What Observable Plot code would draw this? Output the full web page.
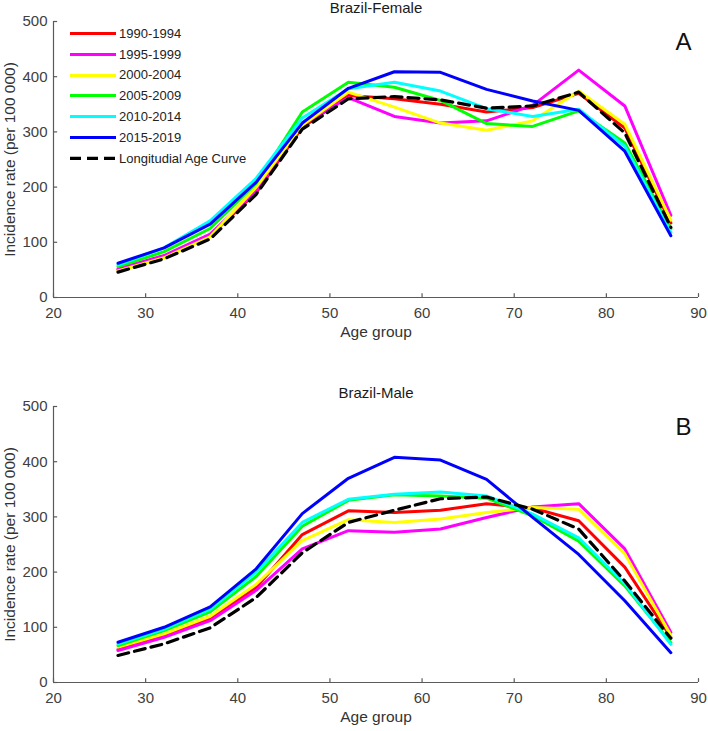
<!DOCTYPE html>
<html><head><meta charset="utf-8">
<script src="https://cdn.jsdelivr.net/npm/d3@7"></script>
<script src="https://cdn.jsdelivr.net/npm/@observablehq/plot@0.6"></script>
<style>
body{margin:0;background:#fff;font-family:"Liberation Sans",Arial,sans-serif;}
#wrap{position:relative;width:708px;height:731px;overflow:hidden;}
#wrap svg{display:block;}
.legend{position:absolute;left:70px;top:23px;font-size:13px;color:#222;}
.legend .row{display:flex;align-items:center;height:20.8px;}
.legend .row svg{width:46px;height:20.8px;margin-right:3px;}
</style></head><body><div id="wrap"></div>
<script>
const ages = [27,32,37,42,47,52,57,62,67,72,77,82,87];
const seriesNames = ["1990-1994","1995-1999","2000-2004","2005-2009","2010-2014","2015-2019"];
const seriesColors = ["#ff0000","#ff00ff","#ffff00","#00ff00","#00ffff","#0000ff"];
const longLabel = "Longitudial Age Curve";
const xTicks = [20,30,40,50,60,70,80,90];
const yTicks = [0,100,200,300,400,500];

// Brazil-Female
const f1990 = [50, 73, 112, 190, 308, 366, 360, 350, 336, 344, 370, 307, 135];
const f1995 = [52, 76, 115, 193, 314, 362, 328, 316, 320, 348, 412, 347, 149];
const f2000 = [48, 72, 110, 200, 312, 372, 345, 316, 303, 320, 374, 314, 140];
const f2005 = [56, 83, 125, 207, 336, 390, 381, 357, 315, 310, 338, 280, 125];
const f2010 = [59, 90, 139, 216, 325, 378, 390, 374, 342, 328, 341, 274, 118];
const f2015 = [62, 90, 133, 209, 316, 379, 409, 408, 377, 356, 339, 265, 112];
const fLong = [46, 70, 106, 187, 305, 360, 364, 358, 343, 347, 372, 298, 127];

// Brazil-Male
const m1990 = [60, 85, 115, 172, 268, 311, 308, 312, 324, 316, 293, 209, 82];
const m1995 = [58, 82, 112, 167, 242, 275, 272, 278, 299, 318, 324, 242, 91];
const m2000 = [64, 88, 120, 178, 257, 295, 290, 296, 308, 317, 314, 233, 85];
const m2005 = [67, 94, 128, 192, 283, 330, 340, 338, 334, 302, 256, 175, 72];
const m2010 = [70, 97, 133, 200, 290, 332, 341, 345, 338, 305, 262, 179, 69];
const m2015 = [73, 100, 137, 206, 306, 370, 408, 403, 368, 299, 232, 148, 54];
const mLong = [49, 70, 99, 154, 235, 290, 312, 333, 336, 314, 278, 184, 80];

function toLong(seriesArrays) {
  const rows = [];
  seriesArrays.forEach((arr, i) => arr.forEach((v, j) => rows.push({series: seriesNames[i], age: ages[j], value: v})));
  return rows;
}
function toRows(arr) { return arr.map((v, j) => ({age: ages[j], value: v})); }

const axisColor = "#5a5a5a";
const font = "'Liberation Sans', Arial, sans-serif";

function panel(data, longData, title, letter, height, marginBottom) {
  return Plot.plot({
    width: 708, height, marginTop: 21, marginBottom, marginLeft: 53, marginRight: 10,
    style: {fontFamily: font, fontSize: "15px", color: "#404040", background: "#fff", overflow: "visible"},
    x: {domain: [20, 90]},
    y: {domain: [0, 500]},
    color: {domain: seriesNames, range: seriesColors},
    marks: [
      Plot.axisX(xTicks, {tickSize: 0, tickPadding: 10, label: null, fontSize: 15}),
      Plot.axisY(yTicks, {tickSize: 0, tickPadding: 6, label: null, fontSize: 15}),
      Plot.ruleY([0], {stroke: axisColor, strokeWidth: 1.2}),
      Plot.ruleX([20], {stroke: axisColor, strokeWidth: 1.2}),
      Plot.ruleX(xTicks, {y1: 0, y2: 7, stroke: axisColor, strokeWidth: 1.2}),
      Plot.ruleY(yTicks, {x1: 20, x2: 20.45, stroke: axisColor, strokeWidth: 1.2}),
      Plot.line(data, {x: "age", y: "value", z: "series", stroke: "series", strokeWidth: 3}),
      Plot.line(longData, {x: "age", y: "value", stroke: "#000", strokeWidth: 3.2, strokeDasharray: "11,6"}),
      Plot.text([title], {text: d => d, frameAnchor: "top", textAnchor: "middle", lineAnchor: "middle", dy: -13, fontSize: 15, fill: "#1a1a1a"}),
      Plot.text([letter], {text: d => d, frameAnchor: "top-right", textAnchor: "middle", lineAnchor: "middle", dx: -15, dy: 20.5, fontSize: 24, fill: "#111"}),
      Plot.text(["Age group"], {text: d => d, frameAnchor: "bottom", textAnchor: "middle", lineAnchor: "middle", dy: 35, fontSize: 15.5, fill: "#333"}),
      Plot.text(["Incidence rate (per 100 000)"], {text: d => d, frameAnchor: "left", textAnchor: "middle", lineAnchor: "middle", rotate: -90, dx: -43, fontSize: 15.5, fill: "#333"})
    ]
  });
}

const wrap = document.getElementById("wrap");
const topPanel = panel(toLong([f1990,f1995,f2000,f2005,f2010,f2015]), toRows(fLong), "Brazil-Female", "A", 385, 88);
const bottomPanel = panel(toLong([m1990,m1995,m2000,m2005,m2010,m2015]), toRows(mLong), "Brazil-Male", "B", 346, 49);
wrap.appendChild(topPanel);
wrap.appendChild(bottomPanel);

// legend
const legend = document.createElement("div");
legend.className = "legend";
const items = seriesNames.map((s, i) => ({label: s, color: seriesColors[i], dash: null}))
  .concat([{label: longLabel, color: "#000", dash: "11,6"}]);
for (const it of items) {
  const row = document.createElement("div");
  row.className = "row";
  const ns = "http://www.w3.org/2000/svg";
  const svg = document.createElementNS(ns, "svg");
  svg.setAttribute("width", 46); svg.setAttribute("height", 20.8);
  const ln = document.createElementNS(ns, "line");
  ln.setAttribute("x1", 0); ln.setAttribute("x2", 46);
  ln.setAttribute("y1", 10.4); ln.setAttribute("y2", 10.4);
  ln.setAttribute("stroke", it.color);
  ln.setAttribute("stroke-width", it.dash ? 3.2 : 3);
  if (it.dash) ln.setAttribute("stroke-dasharray", it.dash);
  svg.appendChild(ln);
  const span = document.createElement("span");
  span.textContent = it.label;
  row.appendChild(svg); row.appendChild(span);
  legend.appendChild(row);
}
wrap.appendChild(legend);
</script></body></html>
